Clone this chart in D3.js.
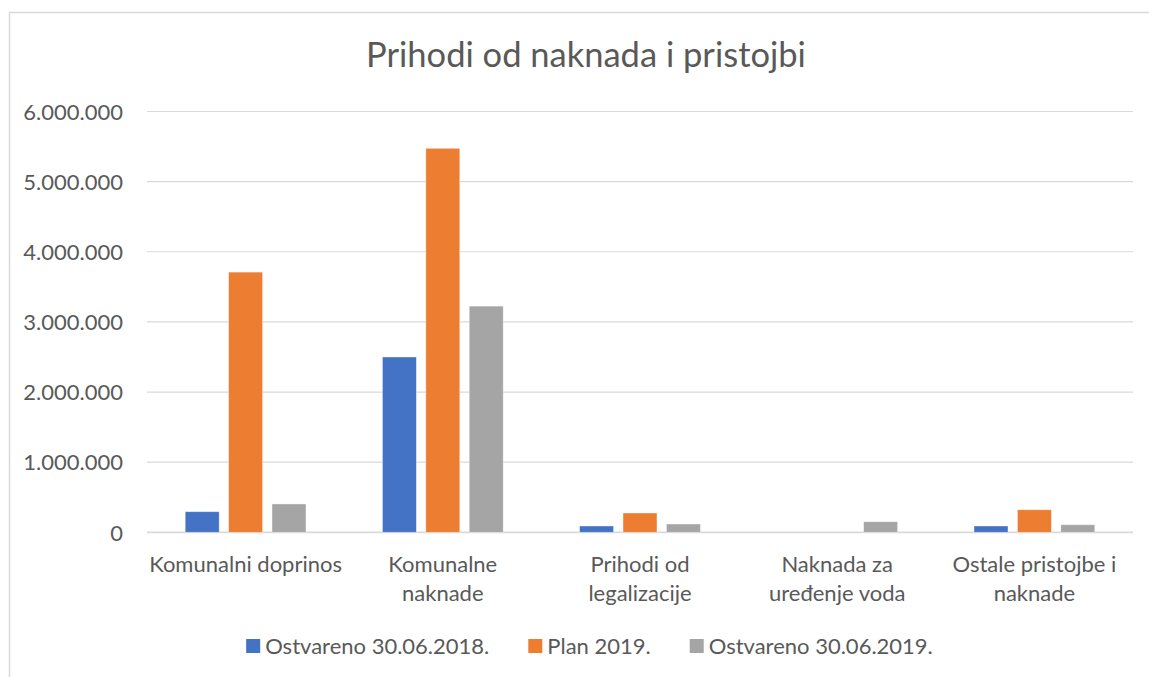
<!DOCTYPE html>
<html>
<head>
<meta charset="utf-8">
<script src="https://cdn.jsdelivr.net/npm/d3@7"></script>
<style>
  body { margin: 0; background: #fff; }
  svg { display: block; font-family: Lato, "Open Sans", sans-serif; }
</style>
</head>
<body>
<div id="chart"></div>
<script>
// chart values
var categories = ["Komunalni doprinos", "Komunalne\nnaknade", "Prihodi od\nlegalizacije",
                  "Naknada za\nuređenje voda", "Ostale pristojbe i\nnaknade"];
var series = ["Ostvareno 30.06.2018.", "Plan 2019.", "Ostvareno 30.06.2019."];
var ostvareno2018 = [294000, 2500000, 90000, 0, 90000];
var plan2019 = [3710000, 5475000, 275000, 0, 322000];
var ostvareno2019 = [404000, 3225000, 118000, 151000, 108000];
var yTicks = [0, 1000000, 2000000, 3000000, 4000000, 5000000, 6000000];
var colors = ["#4472C4", "#ED7D31", "#A5A5A5"];

var values = [ostvareno2018, plan2019, ostvareno2019];
var width = 1149, height = 677;
var textColor = "#595959";

var svg = d3.select("#chart").append("svg")
  .attr("width", width)
  .attr("height", height);

// chart frame (only left and top edges are in view)
svg.append("path")
  .attr("d", "M 9.5 677 L 9.5 12.5 L 1149 12.5")
  .attr("fill", "none")
  .attr("stroke", "#d9d9d9")
  .attr("stroke-width", 1.5);

svg.append("text")
  .attr("x", 586)
  .attr("y", 67)
  .attr("text-anchor", "middle")
  .attr("font-size", 34.5)
  .attr("fill", textColor)
  .text("Prihodi od naknada i pristojbi");

var x0 = d3.scaleBand()
  .domain(categories)
  .range([147, 1133]);

var x1 = d3.scaleBand()
  .domain(series)
  .range([0, x0.bandwidth()])
  .paddingInner(0.217)
  .paddingOuter(0.88);

var y = d3.scaleLinear()
  .domain([0, 6000000])
  .range([532.3, 111.5]);

var locale = d3.formatLocale({ decimal: ",", thousands: ".", grouping: [3], currency: ["", ""] });
var fmt = locale.format(",.0f");

// gridlines
svg.append("g")
  .selectAll("line")
  .data(yTicks)
  .enter()
  .append("line")
  .attr("x1", 147)
  .attr("x2", 1133)
  .attr("y1", function(d){ return y(d); })
  .attr("y2", function(d){ return y(d); })
  .attr("stroke", "#d9d9d9")
  .attr("stroke-width", function(d){ return d == 0 ? 1.8 : 1.2; });

// y axis labels
var yAxis = d3.axisLeft(y)
  .tickValues(yTicks)
  .tickFormat(fmt)
  .tickSize(0)
  .tickPadding(0);

var ya = svg.append("g")
  .attr("transform", "translate(123,0)")
  .call(yAxis);
ya.select(".domain").remove();
ya.selectAll("text")
  .attr("font-family", "Lato, 'Open Sans', sans-serif")
  .attr("font-size", 22)
  .attr("fill", textColor)
  .attr("dy", "0.35em");

// bars
var groups = svg.append("g")
  .selectAll("g")
  .data(categories)
  .enter()
  .append("g")
  .attr("transform", function(d){ return "translate(" + x0(d) + ",0)"; });

groups.selectAll("rect")
  .data(function(d, i){
    return series.map(function(s, j){ return { series: s, value: values[j][i], color: colors[j] }; });
  })
  .enter()
  .append("rect")
  .attr("x", function(d){ return x1(d.series); })
  .attr("width", x1.bandwidth())
  .attr("y", function(d){ return y(d.value); })
  .attr("height", function(d){ return y(0) - y(d.value); })
  .attr("fill", function(d){ return d.color; })
  .attr("stroke", "#fff")
  .attr("stroke-opacity", 0.5)
  .attr("stroke-width", 0.8);

// category labels
svg.append("g")
  .selectAll("text")
  .data(categories)
  .enter()
  .append("text")
  .attr("text-anchor", "middle")
  .attr("font-size", 22)
  .attr("fill", textColor)
  .each(function(d){
    var lines = d.split("\n");
    var t = d3.select(this);
    lines.forEach(function(line, k){
      t.append("tspan")
        .attr("x", x0(d) + x0.bandwidth() / 2)
        .attr("y", 572 + k * 29)
        .text(line);
    });
  });

// legend
var legend = svg.append("g");
var items = legend.selectAll("g")
  .data(series)
  .enter()
  .append("g");

items.append("rect")
  .attr("width", 14)
  .attr("height", 14)
  .attr("y", 639)
  .attr("fill", function(d, i){ return colors[i]; });

items.append("text")
  .attr("x", 19)
  .attr("y", 653.5)
  .attr("font-size", 22)
  .attr("fill", textColor)
  .text(function(d){ return d; });

var offset = 0, positions = [];
items.each(function(){
  positions.push(offset);
  offset += this.getBBox().width + 39;
});
var total = offset - 39;
var startX = 589.5 - total / 2;
items.attr("transform", function(d, i){ return "translate(" + (startX + positions[i]) + ",0)"; });
</script>
</body>
</html>
